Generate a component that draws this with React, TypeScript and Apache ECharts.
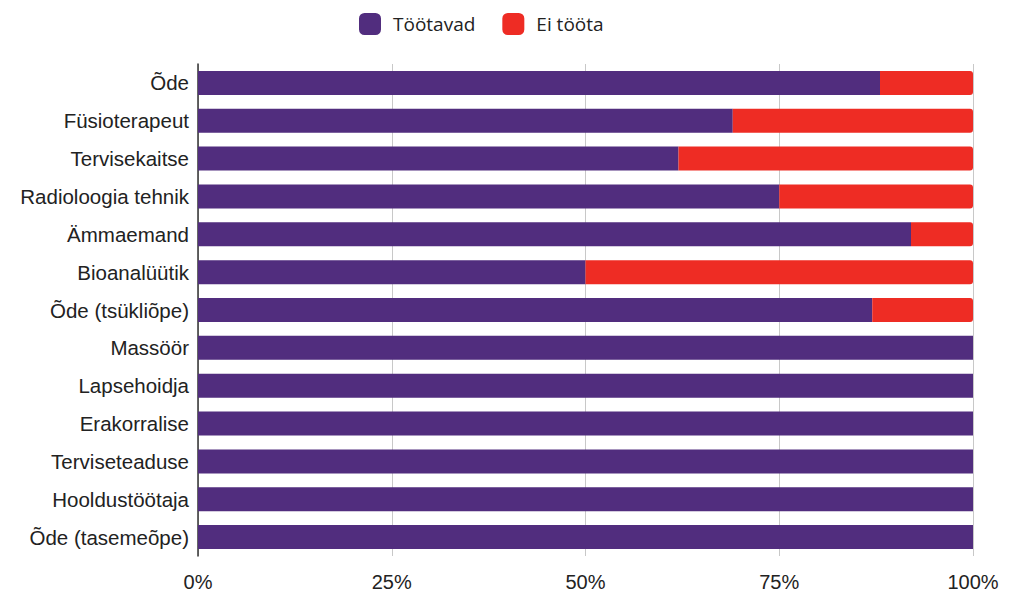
import React, { useEffect, useRef } from "react";
import * as echarts from "echarts";

const categories = [
  "Õde",
  "Füsioterapeut",
  "Tervisekaitse",
  "Radioloogia tehnik",
  "Ämmaemand",
  "Bioanalüütik",
  "Õde (tsükliõpe)",
  "Massöör",
  "Lapsehoidja",
  "Erakorralise",
  "Terviseteaduse",
  "Hooldustöötaja",
  "Õde (tasemeõpe)",
];
const working = [88, 69, 62, 75, 92, 50, 87, 100, 100, 100, 100, 100, 100];
const notWorking = [12, 31, 38, 25, 8, 50, 13, 0, 0, 0, 0, 0, 0];
const seriesNames = ["Töötavad", "Ei tööta"];

export default function App() {
  const ref = useRef<HTMLDivElement>(null);
  useEffect(() => {
    if (!ref.current) return;
    const chart = echarts.init(ref.current, null, { renderer: "svg" });
    chart.setOption({
      animation: false,
      backgroundColor: "#ffffff",
      legend: {
        left: 359,
        top: 13,
        padding: 0,
        itemWidth: 22,
        itemHeight: 22,
        itemGap: 27,
        icon: "roundRect",
        textStyle: {
          fontFamily: "Open Sans",
          fontSize: 19,
          color: "#222",
          padding: [0, 0, 0, 7],
        },
        data: seriesNames,
      },
      grid: { left: 198, right: 51, top: 64, bottom: 57, containLabel: false },
      xAxis: {
        type: "value",
        min: 0,
        max: 100,
        interval: 25,
        axisLine: { show: false },
        axisTick: { show: false },
        splitLine: { show: true, lineStyle: { color: "#c8c8c8", width: 1 } },
        axisLabel: {
          formatter: "{value}%",
          fontFamily: "Liberation Sans",
          fontSize: 20,
          color: "#222",
          margin: 16,
        },
      },
      yAxis: {
        type: "category",
        inverse: true,
        data: categories,
        axisLine: { show: true, lineStyle: { color: "#333", width: 1.5 } },
        axisTick: { show: false },
        axisLabel: {
          fontFamily: "Liberation Sans",
          fontSize: 20.5,
          color: "#222",
          margin: 9,
        },
      },
      series: [
        {
          name: seriesNames[0],
          type: "bar",
          stack: "t",
          barWidth: 24,
          data: working,
          itemStyle: { color: "#512D7E" },
        },
        {
          name: seriesNames[1],
          type: "bar",
          stack: "t",
          barWidth: 24,
          data: notWorking,
          itemStyle: { color: "#EE2C24", borderRadius: [0, 3, 3, 0] },
        },
      ],
    });
    return () => chart.dispose();
  }, []);
  return <div ref={ref} style={{ width: 1024, height: 613, margin: -8 }} />;
}
